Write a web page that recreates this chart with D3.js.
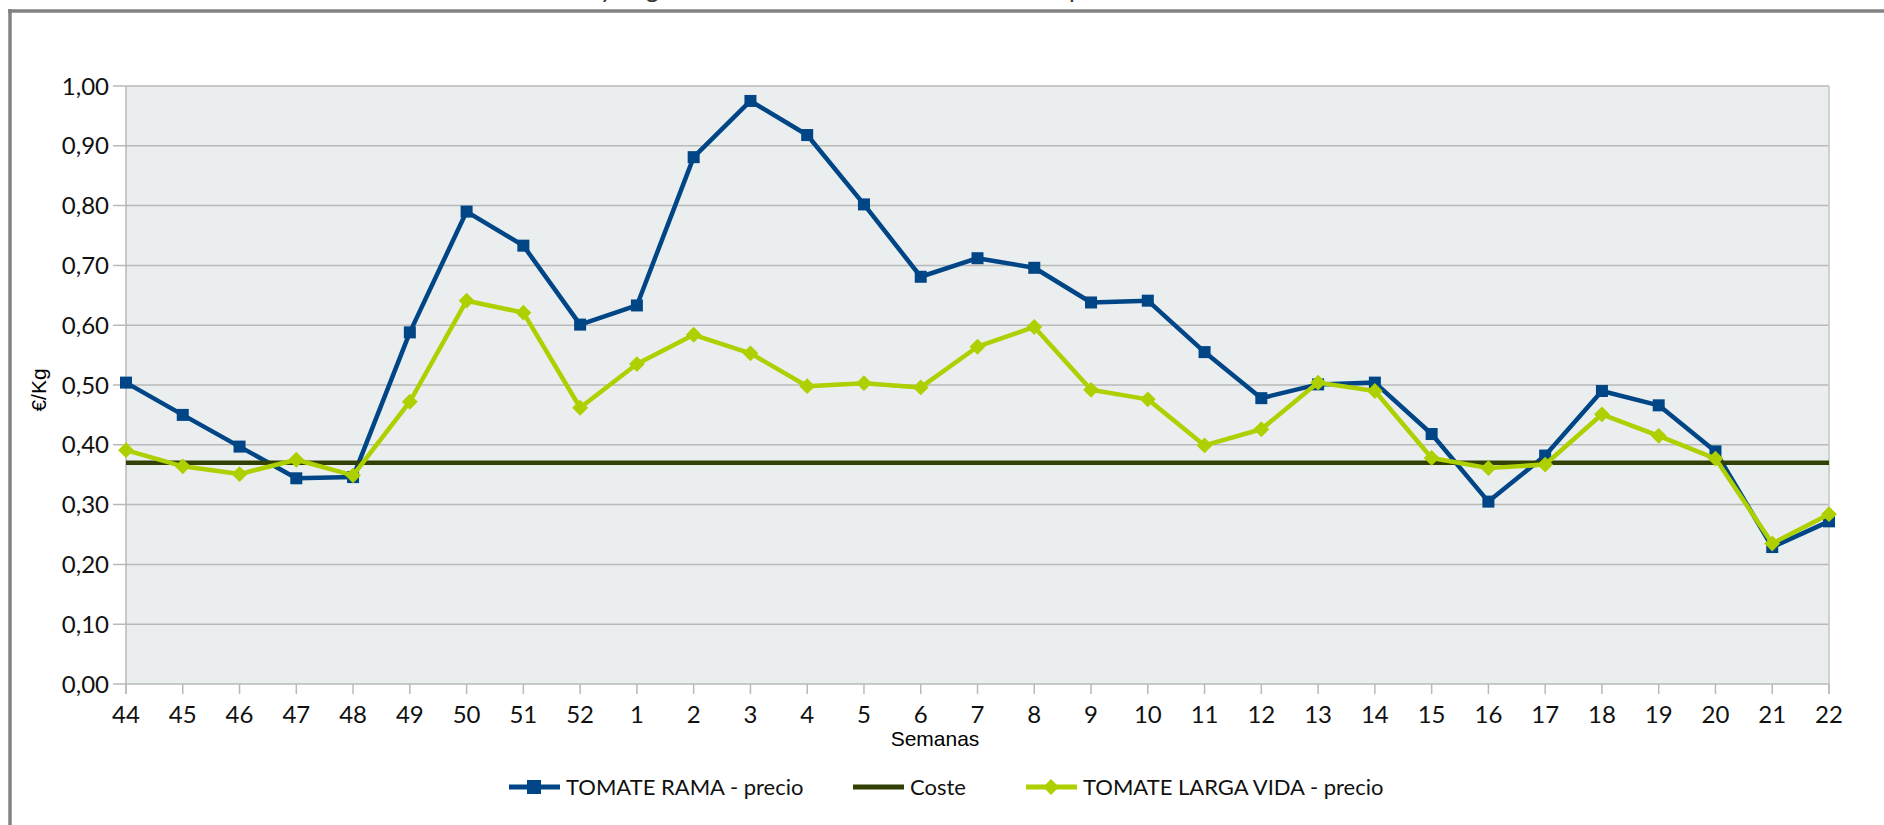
<!DOCTYPE html>
<html>
<head>
<meta charset="utf-8">
<script src="https://cdn.jsdelivr.net/npm/d3@7"></script>
<style>
  body { margin: 0; background: #fff; }
  svg { display: block; }
</style>
</head>
<body>
<svg id="chart" width="1884" height="825"></svg>
<script>
// data
const weeks = ['44','45','46','47','48','49','50','51','52','1','2','3','4','5','6','7','8','9','10','11','12','13','14','15','16','17','18','19','20','21','22'];
const ramaPrecio = [0.504,0.450,0.397,0.344,0.346,0.588,0.790,0.733,0.601,0.633,0.881,0.975,0.918,0.802,0.681,0.712,0.696,0.638,0.641,0.555,0.478,0.501,0.504,0.418,0.305,0.382,0.490,0.466,0.389,0.229,0.272];
const largaVidaPrecio = [0.391,0.364,0.351,0.375,0.349,0.472,0.641,0.621,0.462,0.535,0.584,0.553,0.498,0.503,0.496,0.564,0.597,0.492,0.476,0.399,0.426,0.504,0.490,0.378,0.361,0.367,0.451,0.415,0.377,0.235,0.284];
const coste = 0.37;
const yTicks = [0,0.1,0.2,0.3,0.4,0.5,0.6,0.7,0.8,0.9,1.0];
const seriesNames = ['TOMATE RAMA - precio', 'Coste', 'TOMATE LARGA VIDA - precio'];
const chartTitle = 'Evolución semanal del tomate rama y larga vida frente al coste medio de la campaña';

const svg = d3.select('#chart');
const width = 1884, height = 825;
const margin = { top: 86, right: 55, bottom: 141, left: 126 };
const innerWidth = width - margin.left - margin.right;
const innerHeight = height - margin.top - margin.bottom;

const blue = '#004586', olive = '#314004', lime = '#aecf00';
const tickFont = 'Lato, "DejaVu Sans", sans-serif';
const labelFont = '"Liberation Sans", Arial, sans-serif';

const es = d3.formatLocale({ decimal: ',', thousands: '.', grouping: [3], currency: ['', '€'] });
const fmt = es.format('.2f');

// title: the picture is cut just under it, only descenders show
const title = svg.append('text')
    .attr('y', -2)
    .style('font-family', tickFont)
    .style('font-size', '25px')
    .style('fill', '#333')
    .text(chartTitle);
const tnode = title.node();
title.attr('x', 600 - tnode.getSubStringLength(0, chartTitle.indexOf(' y ') + 1));

// frame (its right and bottom sides fall outside the picture)
svg.append('line')
    .attr('x1', 10).attr('x2', 10).attr('y1', 9).attr('y2', height)
    .style('stroke', '#828282').style('stroke-width', 3.5);
svg.append('line')
    .attr('x1', 8).attr('x2', width).attr('y1', 11).attr('y2', 11)
    .style('stroke', '#828282').style('stroke-width', 3.5);

const x = d3.scalePoint().domain(weeks).range([0, innerWidth]);
const y = d3.scaleLinear().domain([0, 1]).range([innerHeight, 0]);

const g = svg.append('g')
    .attr('transform', `translate(${margin.left},${margin.top})`);

g.append('rect')
    .attr('width', innerWidth).attr('height', innerHeight)
    .style('fill', '#eaeeef');

// horizontal grid + y ticks
g.selectAll('.grid').data(yTicks).enter().append('line')
    .attr('x1', -13).attr('x2', innerWidth)
    .attr('y1', d => y(d)).attr('y2', d => y(d))
    .style('stroke', '#b9b9b9').style('stroke-width', 1.5);

g.append('line')
    .attr('x1', 0).attr('x2', 0).attr('y1', 0).attr('y2', innerHeight + 10)
    .style('stroke', '#b9b9b9').style('stroke-width', 1.5);
g.append('line')
    .attr('x1', innerWidth).attr('x2', innerWidth).attr('y1', 0).attr('y2', innerHeight + 10)
    .style('stroke', '#c4c4c4').style('stroke-width', 1.5);

g.selectAll('.ytl').data(yTicks).enter().append('text')
    .attr('x', -17).attr('y', d => y(d)).attr('dy', '0.36em')
    .style('text-anchor', 'end')
    .style('font-family', tickFont).style('font-size', '24px').style('fill', '#111')
    .text(d => fmt(d));

// x ticks
g.selectAll('.xt').data(weeks).enter().append('line')
    .attr('x1', d => x(d)).attr('x2', d => x(d))
    .attr('y1', innerHeight).attr('y2', innerHeight + 10)
    .style('stroke', '#b9b9b9').style('stroke-width', 1.5);

g.selectAll('.xtl').data(weeks).enter().append('text')
    .attr('x', d => x(d)).attr('y', innerHeight + 39)
    .style('text-anchor', 'middle')
    .style('font-family', tickFont).style('font-size', '24px').style('fill', '#111')
    .text(d => d);

// axis titles
svg.append('text')
    .attr('x', 935).attr('y', 746)
    .style('text-anchor', 'middle')
    .style('font-family', labelFont).style('font-size', '21px').style('fill', '#000')
    .text('Semanas');
svg.append('text')
    .attr('transform', 'translate(46,390) rotate(-90)')
    .style('text-anchor', 'middle')
    .style('font-family', labelFont).style('font-size', '21px').style('fill', '#000')
    .text('€/Kg');

const line = d3.line()
    .x((d, i) => x(weeks[i]))
    .y(d => y(d));

// rotated square = the diamond marker
const diamond = d3.symbol().type(d3.symbolSquare).size(125);

// rama
g.append('path').datum(ramaPrecio)
    .attr('d', line)
    .style('fill', 'none').style('stroke', blue).style('stroke-width', 4.5).style('stroke-linejoin', 'round');
g.selectAll('.sq').data(ramaPrecio).enter().append('rect')
    .attr('x', (d, i) => x(weeks[i]) - 6).attr('y', d => y(d) - 6)
    .attr('width', 12).attr('height', 12)
    .style('fill', blue);

// coste
g.append('line')
    .attr('x1', 0).attr('x2', innerWidth)
    .attr('y1', y(coste)).attr('y2', y(coste))
    .style('stroke', olive).style('stroke-width', 4.5);

// larga vida
g.append('path').datum(largaVidaPrecio)
    .attr('d', line)
    .style('fill', 'none').style('stroke', lime).style('stroke-width', 4.5).style('stroke-linejoin', 'round');
g.selectAll('.dm').data(largaVidaPrecio).enter().append('path')
    .attr('transform', (d, i) => `translate(${x(weeks[i])},${y(d)}) rotate(45)`)
    .attr('d', diamond)
    .style('fill', lime);

// legend
const legY = 787;
const legItems = [
    { name: seriesNames[0], color: blue, x0: 509, mark: 'square' },
    { name: seriesNames[1], color: olive, x0: 853, mark: 'none' },
    { name: seriesNames[2], color: lime, x0: 1026, mark: 'diamond' }
];
legItems.forEach(it => {
    svg.append('line')
        .attr('x1', it.x0).attr('x2', it.x0 + 51)
        .attr('y1', legY).attr('y2', legY)
        .style('stroke', it.color).style('stroke-width', 5);
    if (it.mark === 'square') {
        svg.append('rect')
            .attr('x', it.x0 + 25 - 7).attr('y', legY - 7)
            .attr('width', 14).attr('height', 14)
            .style('fill', it.color);
    } else if (it.mark === 'diamond') {
        svg.append('path')
            .attr('transform', `translate(${it.x0 + 25},${legY}) rotate(45)`)
            .attr('d', diamond)
            .style('fill', it.color);
    }
    svg.append('text')
        .attr('x', it.x0 + 57).attr('y', legY).attr('dy', '0.36em')
        .style('font-family', tickFont).style('font-size', '22px').style('fill', '#111')
        .text(it.name);
});
</script>
</body>
</html>
